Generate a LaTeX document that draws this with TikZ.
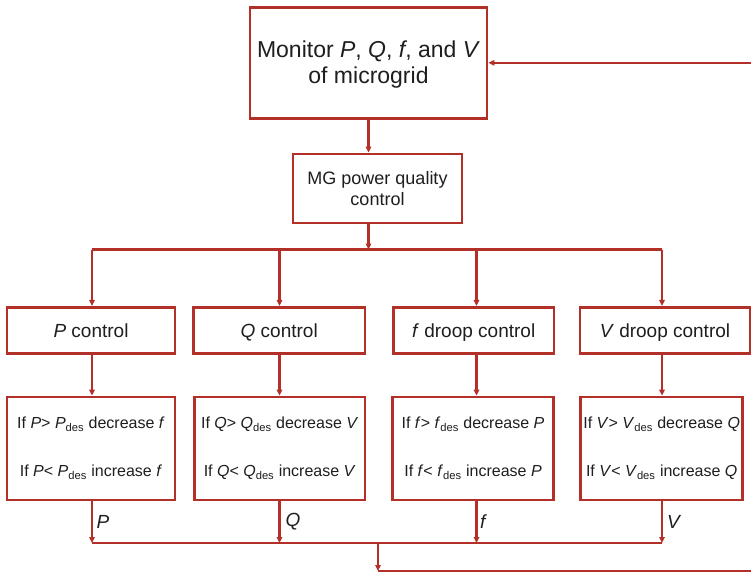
\documentclass[tikz,border=0pt]{standalone}
\usepackage{fontspec}
\setmainfont{Liberation Sans}
\usetikzlibrary{arrows.meta}
\definecolor{mgred}{RGB}{178,48,40}
\definecolor{ink}{RGB}{30,30,30}
\begin{document}
\begin{tikzpicture}[x=1pt,y=-1pt,
  box/.style={draw=mgred, line width=2.8pt, fill=white, inner sep=0pt, align=center, text=ink},
  tip/.style={-{Triangle[length=6pt,width=5.5pt]}},
  flow/.style={draw=mgred, line width=2.2pt, tip},
  wire/.style={draw=mgred, line width=2.2pt},
  ctl/.style={box, minimum height=46pt, text height=13.5pt, text depth=0pt, font=\fontsize{19}{21}\selectfont},
  rulebox/.style={box, minimum height=103pt, font=\fontsize{16}{48}\selectfont},
  sig/.style={font=\fontsize{19}{21}\selectfont\itshape, text=ink, anchor=west, inner sep=0pt}]

\useasboundingbox (0,0) rectangle (751,573);
\fill[white] (0,0) rectangle (751,573);
\clip (0,0) rectangle (751,573);

% column positions of the four control branches
\coordinate (colP) at (92,0);
\coordinate (colQ) at (279.5,0);
\coordinate (colF) at (476.5,0);
\coordinate (colV) at (662,0);

% top of the chain
\node[box, minimum width=237pt, minimum height=111pt] (mon) at (368.5,62.8) {};
\node[font=\fontsize{23}{26.5}\selectfont, text=ink, align=center, inner sep=0pt] (montxt)
  at ([yshift=-2pt]mon.center) {Monitor \textit{P}, \textit{Q}, \textit{f}, and \textit{V}\\of microgrid};

\node[box, minimum width=169pt, minimum height=69pt, font=\fontsize{18}{20.5}\selectfont] (mg)
  at (377.5,188.5) {MG power quality\\control};

% control blocks
\node[ctl, minimum width=168pt]   (pc) at (91,330.3)    {\textit{P} control};
\node[ctl, minimum width=171.7pt] (qc) at (279.2,330.3) {\textit{Q} control};
\node[ctl, minimum width=160.7pt] (fc) at (473.7,330.3) {\textit{f} droop control};
\node[ctl, minimum width=170pt]   (vc) at (665,330.3)   {\textit{V} droop control};

% rule blocks
\node[rulebox, minimum width=168pt] (pr) at (91,448.5)
  {If \textit{P}> \textit{P}\textsubscript{des} decrease \textit{f}\\If \textit{P}< \textit{P}\textsubscript{des} increase \textit{f}};
\node[rulebox, minimum width=170.7pt] (qr) at (279.7,448.5)
  {If \textit{Q}> \textit{Q}\textsubscript{des} decrease \textit{V}\\If \textit{Q}< \textit{Q}\textsubscript{des} increase \textit{V}};
\node[rulebox, minimum width=160.6pt] (fr) at (473,448.5)
  {If \textit{f}> \textit{f}\textsubscript{des} decrease \textit{P}\\If \textit{f}< \textit{f}\textsubscript{des} increase \textit{P}};
\node[rulebox, minimum width=162pt] (vr) at (661.7,448.5)
  {If \textit{V}> \textit{V}\textsubscript{des} decrease \textit{Q}\\If \textit{V}< \textit{V}\textsubscript{des} increase \textit{Q}};

% distribution bus and collector bus
\coordinate (bus) at (0,249.5);
\coordinate (out) at (0,543);
\coordinate (join) at (378,543);
\coordinate (ret) at (378,571);
\coordinate (far) at (755,571);

% monitor -> MG -> bus
\draw[flow] (mon.south) -- (mon.south |- mg.north);
\draw[flow] (mg.south -| mon.south) -- (mon.south |- bus);
\draw[wire] (colP |- bus) -- (colV |- bus);

% bus -> control blocks -> rule blocks -> collector
\foreach \c/\k/\r in {colP/pc/pr, colQ/qc/qr, colF/fc/fr, colV/vc/vr}{
  \draw[flow] (\c |- bus) -- (\k.north -| \c);
  \draw[flow] (\k.south -| \c) -- (\r.north -| \c);
  \draw[flow] (\r.south -| \c) -- (\c |- out);
}
\draw[wire] (colP |- out) -- (colV |- out);

% signal names on the outputs
\node[sig] (sP) at (96.5,521.5)  {P};
\node[sig] (sQ) at (285.5,521.5) {Q};
\node[sig] (sF) at (480,521.5)   {f};
\node[sig] (sV) at (667,521.5)   {V};

% feedback loop back to the monitor
\draw[flow] (join) -- (ret);
\draw[wire, tip] (ret) -- (far) |- (mon.east);
\end{tikzpicture}
\end{document}
